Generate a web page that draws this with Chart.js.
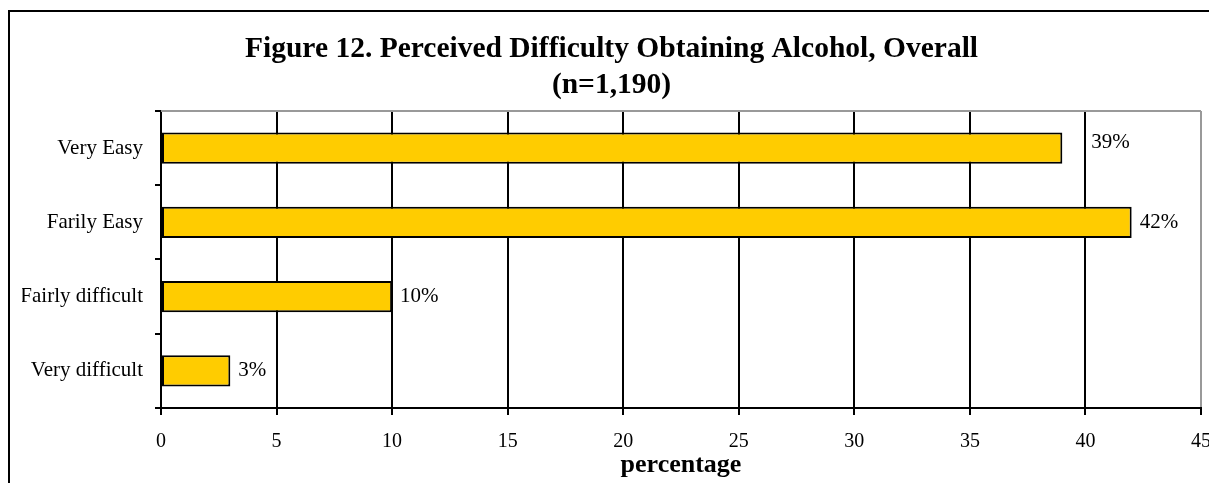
<!DOCTYPE html>
<html>
<head>
<meta charset="utf-8">
<script src="https://cdn.jsdelivr.net/npm/chart.js@4"></script>
<style>
    html, body { margin: 0; padding: 0; background: #fff; }
    #wrap { position: relative; width: 1209px; height: 483px; }
</style>
</head>
<body>
<div id="wrap"><canvas id="bar-chart-difficulty" width="1209" height="483"></canvas></div>
<script>
let categories = ["Very Easy", "Farily Easy", "Fairly difficult", "Very difficult"];
let percentages = [39, 42, 10, 3];
let xTicks = [0, 5, 10, 15, 20, 25, 30, 35, 40, 45];
let titleLines = ["Figure 12. Perceived Difficulty Obtaining Alcohol, Overall", "(n=1,190)"];
let xTitle = "percentage";

const serif = "'Liberation Serif', 'Times New Roman', serif";

// outer frame of the figure + grey top edge of the plot
let framePlugin = {
    id: 'frame',
    beforeDraw: function (chart) {
        let ctx = chart.ctx;
        ctx.save();
        ctx.fillStyle = '#fff';
        ctx.fillRect(0, 0, chart.width, chart.height);
        ctx.strokeStyle = '#000';
        ctx.lineWidth = 2;
        ctx.strokeRect(9, 11, chart.width + 20, chart.height + 20);
        ctx.restore();
    },
    afterDatasetsDraw: function (chart) {
        let a = chart.chartArea;
        let ctx = chart.ctx;
        ctx.save();
        ctx.strokeStyle = '#999';
        ctx.lineWidth = 2;
        ctx.beginPath();
        ctx.moveTo(a.left, a.top);
        ctx.lineTo(a.right, a.top);
        ctx.stroke();
        ctx.restore();
    }
};

// "39%" style labels at the end of each bar
let valueLabelPlugin = {
    id: 'valueLabels',
    afterDatasetsDraw: function (chart, args, opts) {
        let ctx = chart.ctx;
        let meta = chart.getDatasetMeta(0);
        ctx.save();
        ctx.font = "21px " + serif;
        ctx.fillStyle = '#000';
        ctx.textBaseline = 'middle';
        ctx.textAlign = 'left';
        meta.data.forEach(function (bar, i) {
            let shift = (opts.shift && opts.shift[i]) || [0, 0];
            let v = chart.data.datasets[0].data[i];
            ctx.fillText(v + '%', bar.x + 8 + shift[0], bar.y + shift[1]);
        });
        ctx.restore();
    }
};

new Chart(document.getElementById("bar-chart-difficulty"), {
    type: 'bar',
    data: {
        labels: categories,
        datasets: [{
            data: percentages,
            backgroundColor: "#FFCC00",
            borderColor: "#000",
            borderWidth: 2,
            borderSkipped: false,
            categoryPercentage: 0.42,
            barPercentage: 1.0
        }]
    },
    plugins: [framePlugin, valueLabelPlugin],
    options: {
        indexAxis: 'y',
        responsive: false,
        animation: false,
        layout: { padding: { left: 22, right: 8, top: 0, bottom: 0 } },
        plugins: {
            legend: { display: false },
            tooltip: { enabled: false },
            title: {
                display: true,
                text: titleLines,
                color: '#000',
                font: { family: serif, size: 29.5, weight: 'bold', lineHeight: 1.22 },
                padding: { top: 31, bottom: 8 }
            },
            valueLabels: { shift: { 0: [21, -6] } }
        },
        scales: {
            x: {
                min: 0,
                max: 45,
                afterBuildTicks: function (scale) {
                    scale.ticks = xTicks.map(function (v) { return { value: v }; });
                },
                afterFit: function (scale) {
                    scale.height = 75;
                    scale.paddingLeft = 0;
                    scale.paddingRight = 0;
                },
                border: { display: true, color: '#000', width: 2 },
                grid: {
                    color: function (c) { return c.tick && c.tick.value === 45 ? '#999' : '#000'; },
                    tickColor: '#000',
                    lineWidth: 2,
                    tickLength: 7
                },
                ticks: {
                    color: '#000',
                    font: { family: serif, size: 20 },
                    padding: 15,
                    maxRotation: 0
                },
                title: {
                    display: true,
                    text: xTitle,
                    color: '#000',
                    font: { family: serif, size: 26, weight: 'bold', lineHeight: 1 },
                    padding: { top: 0, bottom: 5 }
                }
            },
            y: {
                afterFit: function (scale) { scale.width = 139; },
                border: { display: true, color: '#000', width: 2 },
                grid: {
                    offset: true,
                    drawOnChartArea: false,
                    drawTicks: true,
                    tickLength: 6,
                    color: '#000',
                    lineWidth: 2
                },
                ticks: {
                    color: '#000',
                    font: { family: serif, size: 21 },
                    padding: 12
                }
            }
        }
    }
});
</script>
</body>
</html>
